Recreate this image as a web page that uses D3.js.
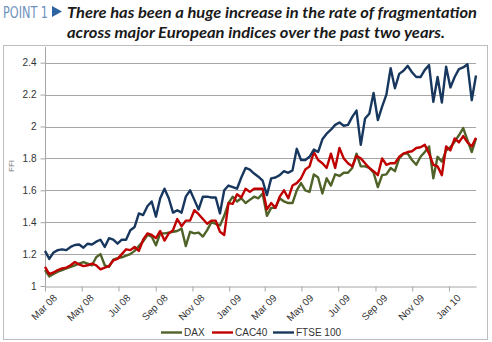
<!DOCTYPE html>
<html>
<head>
<meta charset="utf-8">
<script src="https://cdn.jsdelivr.net/npm/d3@7"></script>
<style>
  body { margin: 0; background: #fff; }
  svg { display: block; }
</style>
</head>
<body>
<script>
// weekly FFI readings, Mar 2008 - Feb 2010
const seriesNames = ["DAX", "CAC40", "FTSE 100"];
const startDate = new Date(2008, 2, 1);
const endDate = new Date(2010, 1, 15);

const dax = [
  1.10, 1.06, 1.075, 1.09, 1.10, 1.11, 1.12, 1.13, 1.14, 1.15,
  1.14, 1.13, 1.18, 1.20, 1.13, 1.12, 1.165, 1.175, 1.18, 1.19,
  1.20, 1.22, 1.25, 1.28, 1.32, 1.31, 1.255, 1.33, 1.33, 1.335,
  1.34, 1.345, 1.36, 1.25, 1.34, 1.33, 1.335, 1.31, 1.35, 1.40,
  1.39, 1.38, 1.44, 1.52, 1.56, 1.53, 1.55, 1.52, 1.54, 1.56,
  1.55, 1.58, 1.44, 1.49, 1.49, 1.55, 1.53, 1.52, 1.52, 1.60,
  1.645, 1.60, 1.59, 1.70, 1.68, 1.58, 1.675, 1.63, 1.70, 1.69,
  1.71, 1.71, 1.74, 1.83, 1.75, 1.75, 1.74, 1.71, 1.62, 1.695,
  1.70, 1.74, 1.72, 1.80, 1.83, 1.83, 1.79, 1.76, 1.81, 1.84,
  1.875, 1.675, 1.81, 1.78, 1.85, 1.87, 1.905, 1.945, 1.99, 1.915,
  1.84, 1.925
];

const cac40 = [
  1.12, 1.075, 1.085, 1.10, 1.11, 1.115, 1.13, 1.15, 1.135, 1.125,
  1.13, 1.14, 1.13, 1.105, 1.115, 1.125, 1.16, 1.17, 1.20, 1.23,
  1.225, 1.245, 1.22, 1.29, 1.33, 1.32, 1.30, 1.345, 1.285, 1.33,
  1.35, 1.42, 1.375, 1.41, 1.41, 1.475, 1.45, 1.42, 1.39, 1.41,
  1.41, 1.34, 1.32, 1.52, 1.515, 1.575, 1.555, 1.61, 1.59, 1.61,
  1.61, 1.61, 1.48, 1.52, 1.49, 1.56, 1.60, 1.55, 1.63, 1.645,
  1.675, 1.73, 1.75, 1.84, 1.79, 1.77, 1.74, 1.83, 1.74, 1.865,
  1.80, 1.77, 1.75, 1.815, 1.80, 1.77, 1.74, 1.72, 1.695, 1.80,
  1.76, 1.77, 1.77, 1.81, 1.83, 1.84, 1.845, 1.865, 1.87, 1.885,
  1.83, 1.76, 1.75, 1.695, 1.875, 1.85, 1.925, 1.90, 1.94, 1.90,
  1.875, 1.93
];

const ftse = [
  1.22, 1.17, 1.21, 1.225, 1.23, 1.225, 1.245, 1.257, 1.26, 1.24,
  1.265, 1.26, 1.278, 1.29, 1.245, 1.30, 1.29, 1.265, 1.29, 1.29,
  1.35, 1.37, 1.455, 1.445, 1.50, 1.53, 1.435, 1.55, 1.61, 1.55,
  1.46, 1.475, 1.46, 1.56, 1.60, 1.54, 1.48, 1.56, 1.56, 1.555,
  1.555, 1.455, 1.60, 1.63, 1.62, 1.61, 1.68, 1.74, 1.73, 1.705,
  1.685, 1.66, 1.57, 1.675, 1.68, 1.695, 1.72, 1.71, 1.725, 1.86,
  1.79, 1.79, 1.81, 1.855, 1.84, 1.92, 1.955, 1.98, 2.01, 2.025,
  2.005, 2.01, 2.06, 2.10, 1.885, 2.05, 2.08, 2.21, 2.04, 2.125,
  2.20, 2.365, 2.24, 2.33, 2.35, 2.38, 2.34, 2.31, 2.31, 2.355,
  2.385, 2.155, 2.31, 2.15, 2.375, 2.245, 2.31, 2.36, 2.37, 2.39,
  2.165, 2.32
];

const yTicks = [1, 1.2, 1.4, 1.6, 1.8, 2, 2.2, 2.4];
const colors = ["#4f6228", "#c00000", "#17375e"];

const width = 492, height = 342;
const plot = {left: 45, right: 476, top: 47, bottom: 286};

const svg = d3.select("body").append("svg")
    .attr("width", width)
    .attr("height", height);

svg.append("rect")
    .attr("width", width).attr("height", height)
    .attr("fill", "#fff");

// heading
svg.append("text")
    .attr("x", 3).attr("y", 18)
    .attr("font-family", "'Liberation Sans Narrow', 'DejaVu Sans Condensed', 'Liberation Sans', sans-serif")
    .attr("font-size", 16)
    .attr("fill", "#6f93bd")
    .attr("textLength", 45)
    .attr("lengthAdjust", "spacingAndGlyphs")
    .text("POINT 1");

svg.append("path")
    .attr("d", "M52,6 L62,11.5 L52,17 Z")
    .attr("fill", "#2c63a0");

const heading = [
  {text: "There has been a huge increase in the rate of fragmentation", y: 18, len: 410},
  {text: "across major European indices over the past two years.", y: 38, len: 378}
];
svg.selectAll("text.heading")
  .data(heading)
  .enter().append("text")
    .attr("class", "heading")
    .attr("x", 67)
    .attr("y", d => d.y)
    .attr("font-family", "Lato, 'Liberation Sans', sans-serif")
    .attr("font-size", 16)
    .attr("font-weight", "bold")
    .attr("font-style", "italic")
    .attr("fill", "#1a1a1a")
    .attr("textLength", d => d.len)
    .attr("lengthAdjust", "spacingAndGlyphs")
    .text(d => d.text);

// chart frame
svg.append("rect")
    .attr("x", 3.5).attr("y", 45.5)
    .attr("width", 484).attr("height", 294)
    .attr("fill", "none")
    .attr("stroke", "#bdbdbd");

const n = ftse.length;
const step = (endDate - startDate) / (n - 1);
const dates = d3.range(n).map(i => new Date(+startDate + i * step));

const x = d3.scaleTime()
    .domain([startDate, endDate])
    .range([plot.left, plot.right]);

const y = d3.scaleLinear()
    .domain([1, 2.4])
    .range([plot.bottom, 62.7]);

const font = "'Liberation Sans', Arial, sans-serif";

// gridlines
svg.append("g")
  .selectAll("line")
  .data(yTicks.slice(1))
  .enter().append("line")
    .attr("x1", plot.left).attr("x2", plot.right)
    .attr("y1", d => Math.round(y(d)) + 0.5)
    .attr("y2", d => Math.round(y(d)) + 0.5)
    .attr("stroke", "#a6a6a6");

// y axis
const yAxis = svg.append("g")
    .attr("transform", "translate(" + (plot.left + 0.5) + ",0)")
    .call(d3.axisLeft(y).tickValues(yTicks).tickSize(5).tickPadding(4)
      .tickFormat(d3.format("~g")));
yAxis.select(".domain").remove();
yAxis.selectAll(".tick line").attr("stroke", "#a6a6a6");
yAxis.selectAll("text")
    .attr("font-family", font).attr("font-size", 10).attr("fill", "#333");
svg.append("line")
    .attr("x1", plot.left + 0.5).attr("x2", plot.left + 0.5)
    .attr("y1", plot.top).attr("y2", plot.bottom)
    .attr("stroke", "#a6a6a6");

svg.append("text")
    .attr("transform", "translate(14,166) rotate(-90)")
    .attr("text-anchor", "middle")
    .attr("font-family", font)
    .attr("font-size", 8)
    .attr("fill", "#777")
    .text("FFI");

// x axis
const xTicks = d3.timeMonth.every(2).range(startDate, endDate);
const xAxis = svg.append("g")
    .attr("transform", "translate(0," + (plot.bottom + 0.5) + ")")
    .call(d3.axisBottom(x).tickValues(xTicks).tickSize(5).tickSizeOuter(0)
      .tickFormat(d3.timeFormat("%b %y")));
xAxis.select(".domain").attr("stroke", "#a6a6a6");
xAxis.selectAll(".tick line").attr("stroke", "#a6a6a6");
xAxis.selectAll("text")
    .attr("font-family", font).attr("font-size", 10).attr("fill", "#333")
    .attr("text-anchor", "end")
    .attr("dy", "0.35em")
    .attr("transform", "translate(4,4) rotate(-45)");

// series
const series = [dax, cac40, ftse];
const line = d3.line()
    .x((d, i) => x(dates[i]))
    .y(d => y(d));

svg.append("g")
  .selectAll("path")
  .data(series)
  .enter().append("path")
    .attr("d", line)
    .attr("fill", "none")
    .attr("stroke", (d, i) => colors[i])
    .attr("stroke-width", 2.4)
    .attr("stroke-linejoin", "round");

// legend
const legendX = [161, 212, 273];
const legend = svg.append("g")
  .selectAll("g")
  .data(seriesNames)
  .enter().append("g")
    .attr("transform", (d, i) => "translate(" + legendX[i] + ",332.5)");
legend.append("line")
    .attr("x1", 0).attr("x2", 21)
    .attr("stroke", (d, i) => colors[i])
    .attr("stroke-width", 2.4);
legend.append("text")
    .attr("x", 23).attr("dy", "0.35em")
    .attr("font-family", font).attr("font-size", 10).attr("fill", "#333")
    .text(d => d);
</script>
</body>
</html>
